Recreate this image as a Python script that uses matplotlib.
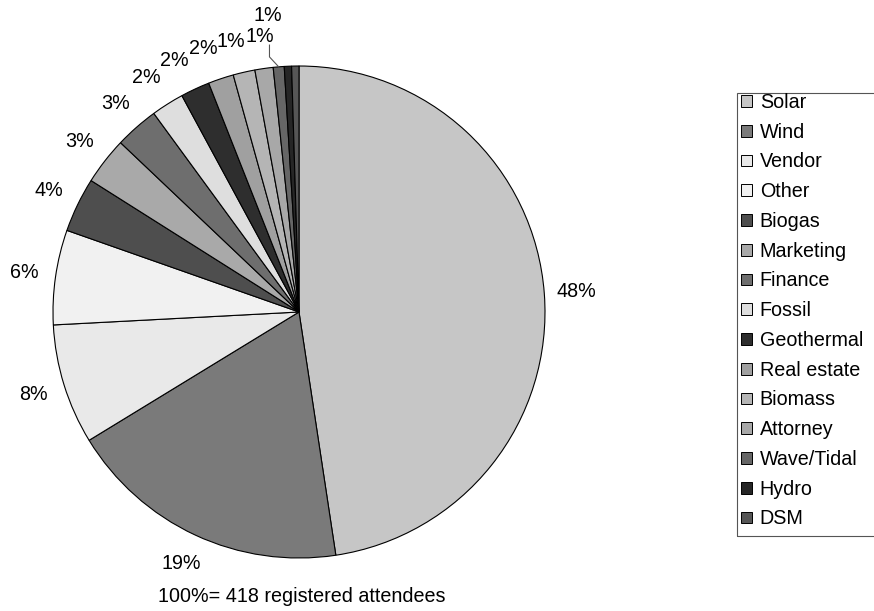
import numpy as np
import matplotlib
matplotlib.use("Agg")
import matplotlib.pyplot as plt
import matplotlib.patches as mpatches

plt.rcParams["font.family"] = ["Liberation Sans", "DejaVu Sans"]

# ── Data: registered attendees by sector (total 418) ─────────────────────────
CATEGORIES = ["Solar", "Wind", "Vendor", "Other", "Biogas", "Marketing",
              "Finance", "Fossil", "Geothermal", "Real estate", "Biomass",
              "Attorney", "Wave/Tidal", "Hydro", "DSM"]
COUNTS = [199, 78, 33, 26, 15, 13, 12, 9, 8, 7, 6, 5, 3, 2, 2]
TOTAL = 418

COLORS = ["#c6c6c6", "#7a7a7a", "#e9e9e9", "#f1f1f1", "#4e4e4e", "#a9a9a9",
          "#6e6e6e", "#dedede", "#2e2e2e", "#a0a0a0", "#b5b5b5", "#a8a8a8",
          "#666666", "#262626", "#565656"]

W, H = 874, 611
fig = plt.figure(figsize=(W / 100, H / 100), dpi=100)
fig.patch.set_facecolor("white")

# pie centre (299, 312) px, radius 246 px
cx, cy, R = 299, 312, 246
ax = fig.add_axes([(cx - R) / W, (H - cy - R) / H, 2 * R / W, 2 * R / H])

wedges, _ = ax.pie(COUNTS, colors=COLORS, startangle=90, counterclock=False,
                   wedgeprops=dict(edgecolor="black", linewidth=0.8))
ax.set_xlim(-1, 1)
ax.set_ylim(-1, 1)
ax.set_aspect("equal")
ax.axis("off")

FS = 14.2
pcts = [100 * c / TOTAL for c in COUNTS]

# label positions: outside end, nudged apart where the top gets crowded
pos = {}
for i, (w, p) in enumerate(zip(wedges, pcts)):
    if round(p) == 0:
        continue
    mid = np.deg2rad((w.theta1 + w.theta2) / 2)
    pos[i] = [1.13 * np.cos(mid), 1.13 * np.sin(mid)]

lead = CATEGORIES.index("Wave/Tidal")
min_gap = 0.115
prev_x = None
for i in sorted(pos, reverse=True):
    if i == lead or pos[i][1] < 0.9:
        continue
    if prev_x is not None and pos[i][0] > prev_x - min_gap:
        pos[i][0] = prev_x - min_gap
    prev_x = pos[i][0]

for i, (x, y) in pos.items():
    lab = f"{pcts[i]:.0f}%"
    if i == lead:
        # label lifted above the crowded top, with leader line
        w = wedges[i]
        mid = np.deg2rad((w.theta1 + w.theta2) / 2)
        lx, ly = -0.126, 1.205
        ax.plot([lx + 0.006, lx + 0.006, np.cos(mid)],
                [1.085, 1.037, np.sin(mid)],
                color="#555555", lw=0.8, clip_on=False)
        ax.text(lx, ly, lab, ha="center", va="center", fontsize=FS,
                clip_on=False)
        continue
    ax.text(x, y, lab, ha="center", va="center", fontsize=FS, clip_on=False)

# ── Legend (frame drawn separately, runs off the right edge) ──────────────────
handles = [mpatches.Patch(facecolor=c, edgecolor="black", linewidth=0.7)
           for c in COLORS]
fig.legend(handles, CATEGORIES, loc="upper left",
           bbox_to_anchor=(741 / W, 1 - 93 / H), frameon=False,
           fontsize=FS, borderpad=0, borderaxespad=0, labelspacing=0.545,
           handlelength=0.55, handleheight=0.55, handletextpad=0.4)
fig.add_artist(mpatches.Rectangle((737 / W, 1 - 536 / H), 0.2, (536 - 93) / H,
                                  transform=fig.transFigure, fill=False,
                                  edgecolor="#555555", linewidth=0.8))

fig.text(302 / W, 1 - 597 / H, "100%= 418 registered attendees",
         ha="center", va="center", fontsize=FS)

fig.savefig("out.png", dpi=100)
